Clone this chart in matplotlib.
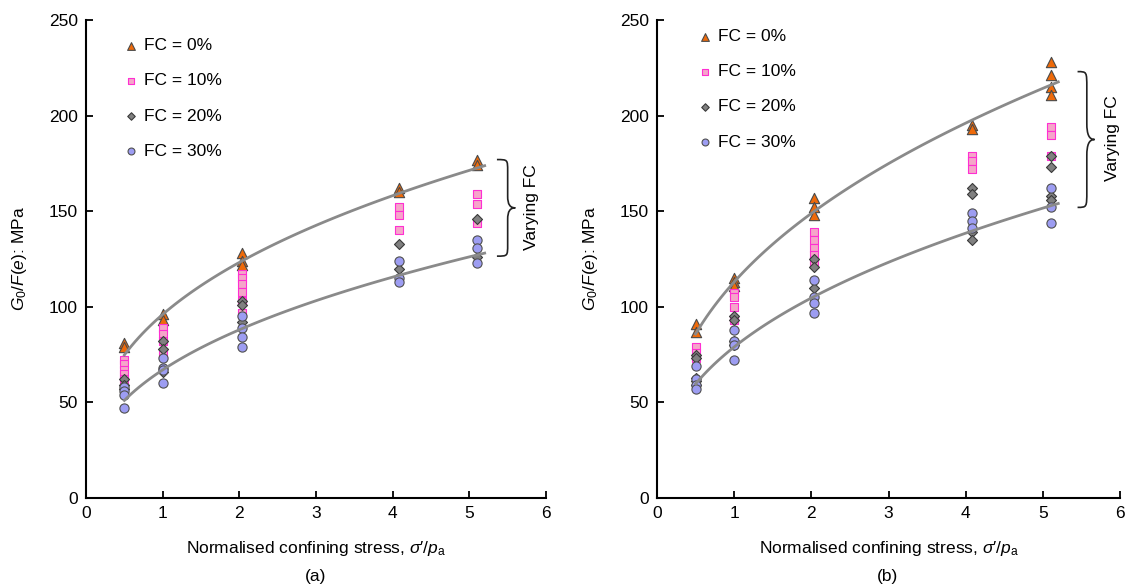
import numpy as np
import matplotlib
matplotlib.use("Agg")
import matplotlib.pyplot as plt
from matplotlib.path import Path
from matplotlib.patches import PathPatch

plt.rcParams["font.family"] = ["Liberation Sans", "DejaVu Sans"]
plt.rcParams["mathtext.fontset"] = "custom"
plt.rcParams["mathtext.rm"] = "Liberation Sans"
plt.rcParams["mathtext.it"] = "Liberation Sans:italic"

# normalised confining stress levels (sigma'/pa)
STRESS = [0.5, 1.0, 2.03, 4.08, 5.1]

# panel (a): G0/F(e) in MPa, one list per stress level
A_FC0 = [[81, 79], [96, 93], [128, 124, 122], [162, 160], [177, 174]]
A_FC10 = [[72, 70, 67, 65, 62], [89, 86, 82, 76], [117, 115, 112, 108, 103, 97],
          [152, 148, 140], [159, 154, 144]]
A_FC20 = [[62, 59, 57], [82, 78, 66], [103, 101, 92], [133, 120], [146, 126]]
A_FC30 = [[58, 56, 54, 47], [73, 68, 67, 60], [95, 89, 84, 79],
          [124, 115, 113], [135, 131, 123]]

# panel (b)
B_FC0 = [[91, 87], [115, 113, 111], [157, 152, 148], [195, 193], [228, 221, 215, 211]]
B_FC10 = [[79, 76, 73], [107, 105, 100, 93], [139, 135, 131, 127, 124],
          [179, 176, 172], [194, 190, 179]]
B_FC20 = [[75, 73, 63, 61, 59], [95, 93, 82, 80], [125, 121, 110],
          [162, 159, 139, 135], [179, 173, 158, 156]]
B_FC30 = [[69, 62, 59, 57], [88, 82, 80, 72], [114, 105, 102, 97],
          [149, 145, 141], [162, 152, 144]]

# power-law trend lines  G = A * (sigma'/pa)^n  -> (A, n)
A_UPPER = (96, 0.36)
A_LOWER = (67, 0.393)
B_UPPER = (113, 0.3975)
B_LOWER = (79, 0.405)
CURVE_RANGE = (0.5, 5.2)

LABELS = ["FC = 0%", "FC = 10%", "FC = 20%", "FC = 30%"]
STYLES = [
    dict(marker="^", s=55, facecolor="#ee6a0a", edgecolor="#4a4a4a"),
    dict(marker="s", s=38, facecolor="#f5a6c9", edgecolor="#ff2fd2"),
    dict(marker="D", s=26, facecolor="#808080", edgecolor="#3a3a3a"),
    dict(marker="o", s=44, facecolor="#9d9df2", edgecolor="#505050"),
]
CURVE_COL = "#8a8a8a"


def flatten(groups):
    xs, ys = [], []
    for x, vals in zip(STRESS, groups):
        xs += [x] * len(vals)
        ys += vals
    return xs, ys


def brace(ax, x0, xm, xt, y0, y1):
    """Right-pointing curly brace from y0 (bottom) to y1 (top)."""
    ym = (y0 + y1) / 2
    r = (y1 - y0) * 0.12
    verts = [
        (x0, y1), (xm, y1), (xm, y1), (xm, y1 - r),
        (xm, ym + r),
        (xm, ym + r * 0.3), (xm + (xt - xm) * 0.3, ym), (xt, ym),
        (xm + (xt - xm) * 0.3, ym), (xm, ym - r * 0.3), (xm, ym - r),
        (xm, y0 + r),
        (xm, y0), (xm, y0), (x0, y0),
    ]
    codes = [Path.MOVETO, Path.CURVE4, Path.CURVE4, Path.CURVE4,
             Path.LINETO,
             Path.CURVE4, Path.CURVE4, Path.CURVE4,
             Path.CURVE4, Path.CURVE4, Path.CURVE4,
             Path.LINETO,
             Path.CURVE4, Path.CURVE4, Path.CURVE4]
    ax.add_patch(PathPatch(Path(verts, codes), fill=False, lw=1.2,
                           edgecolor="#222222", clip_on=False))


def panel(ax, series, upper, lower, leg_anchor, brace_x, brace_y, text_xy):
    for groups, st, lab in zip(series, STYLES, LABELS):
        xs, ys = flatten(groups)
        ax.scatter(xs, ys, linewidths=0.8, zorder=2, label=lab, **st)

    xc = np.linspace(*CURVE_RANGE, 100)
    for a, n in (upper, lower):
        ax.plot(xc, a * xc ** n, color=CURVE_COL, lw=2, zorder=3)

    brace(ax, *brace_x, *brace_y)
    ax.text(*text_xy, "Varying FC", rotation=90, ha="center", va="center",
            fontsize=12.5)

    ax.legend(loc="upper left", bbox_to_anchor=leg_anchor, frameon=False,
              fontsize=12.5, labelspacing=1.15, handlelength=0.8,
              handletextpad=0.35, borderaxespad=0, borderpad=0,
              markerscale=0.75, scatterpoints=1)

    ax.set_xlim(0, 6)
    ax.set_ylim(0, 250)
    ax.set_xticks(range(7))
    ax.set_yticks(range(0, 251, 50))
    for s in ("top", "right"):
        ax.spines[s].set_visible(False)
    for s in ("left", "bottom"):
        ax.spines[s].set_linewidth(1.5)
    ax.tick_params(direction="in", length=5, width=1.3, labelsize=12.5, pad=6)
    ax.set_xlabel(r"Normalised confining stress, $\sigma$′/$p_{\rm a}$",
                  fontsize=12.5, labelpad=13)
    ax.set_ylabel(r"$G_0$/$F(e)$: MPa", fontsize=12.5, labelpad=14)


fig = plt.figure(figsize=(11.26, 5.87), dpi=100)
ax_a = fig.add_axes([86 / 1126, 89 / 587, 460 / 1126, 478 / 587])
ax_b = fig.add_axes([657 / 1126, 89 / 587, 463 / 1126, 478 / 587])

panel(ax_a, [A_FC0, A_FC10, A_FC20, A_FC30], A_UPPER, A_LOWER,
      (0.083, 0.962), (5.36, 5.50, 5.60), (126.5, 177), (5.81, 152))
panel(ax_b, [B_FC0, B_FC10, B_FC20, B_FC30], B_UPPER, B_LOWER,
      (0.088, 0.981), (5.45, 5.57, 5.67), (152, 223), (5.90, 188))

fig.text(316 / 1126, 1 - 576 / 587, "(a)", ha="center", va="center", fontsize=12.5)
fig.text(888 / 1126, 1 - 576 / 587, "(b)", ha="center", va="center", fontsize=12.5)

fig.savefig("out.png", dpi=100)
